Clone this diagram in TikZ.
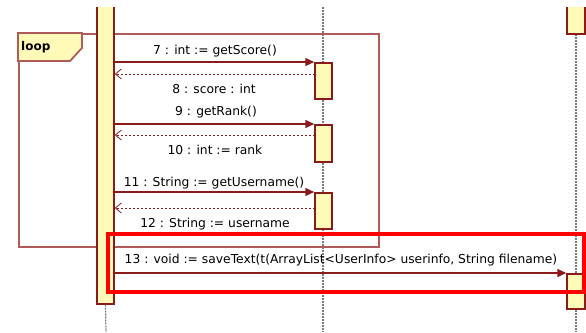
\documentclass[tikz,border=0pt]{standalone}
\usepackage{fontspec}
\setmainfont{DejaVu Sans}
\usetikzlibrary{arrows.meta}

\definecolor{umlred}{HTML}{8B1A1A}
\definecolor{framered}{HTML}{B25A5A}
\definecolor{actfill}{HTML}{FFFAB8}
\definecolor{lifegray}{HTML}{7A7A7A}

\begin{document}
\begin{tikzpicture}[
  x=1pt, y=-1pt,
  bar/.style={draw=umlred, fill=actfill, line width=1.5pt, minimum width=17pt,
    inner sep=0pt, anchor=north},
  lifeline/.style={draw=lifegray, line width=1.2pt, dash pattern=on 2pt off 1pt},
  call/.style={-{Triangle[length=9pt, width=8pt]}, umlred, line width=1.5pt},
  ret/.style={-{Straight Barb[length=6pt, width=10pt]}, umlred, line width=0.8pt,
    dash pattern=on 2.5pt off 1.5pt},
  msg/.style={font=\fontsize{12.3}{14}\selectfont, inner sep=0pt},
  frame/.style={draw=framered, line width=1.8pt, inner sep=0pt, anchor=north west},
  hilite/.style={draw=red, line width=4pt},
]
\useasboundingbox (0,0) rectangle (586,332);
\clip (0,7) rectangle (586,332);

% --- lifelines ---
\coordinate (mtop) at (323,7);
\coordinate (mend) at (323,332);
\coordinate (rtop) at (576,7);
\coordinate (rend) at (576,332);
\coordinate (lend) at (106,332);
\draw[lifeline] (mtop) -- (mend);
\draw[lifeline] (rtop) -- (rend);

% --- loop fragment ---
\node[frame, minimum width=360pt, minimum height=213pt] (loopfr) at (18,33) {};
\draw[framered, line width=1.8pt, fill=actfill]
  (loopfr.north west) -- ++(64,0) -- ++(0,15) -- ++(-12,13) -- ++(-52,0) -- cycle;
\node[font=\fontsize{12}{14}\selectfont\bfseries, anchor=west, inner sep=0pt]
  (looptag) at (21,47) {loop};

% --- activation bars ---
\node[bar, minimum height=310pt] (lbar) at (105.5,-7) {};
\draw[lifeline] (lbar.south) -- (lend);
\node[bar, minimum height=36pt] (act1) at (323.5,62) {};
\node[bar, minimum height=37pt] (act2) at (323.5,124) {};
\node[bar, minimum height=36pt] (act3) at (323.5,192) {};
\node[bar, minimum width=18pt, minimum height=40pt] (rtopbar) at (576,-7) {};
\node[bar, minimum width=18pt, minimum height=35pt] (act4) at (576,273) {};

% --- messages ---
\node[msg] (m7) at (215,51) {7 : int := getScore()};
\draw[call] (lbar.east |- act1.north) -- (act1.north west);
\coordinate (r8) at (315,74);
\draw[ret] (r8) -- (lbar.east |- r8);
\node[msg] (m8) at (214,89) {8 : score : int};

\node[msg] (m9) at (216,112) {9 : getRank()};
\draw[call] (lbar.east |- act2.north) -- (act2.north west);
\coordinate (r10) at (315,135);
\draw[ret] (r10) -- (lbar.east |- r10);
\node[msg] (m10) at (215,150) {10 : int := rank};

\node[msg] (m11) at (214,183) {11 : String := getUsername()};
\draw[call] (lbar.east |- act3.north) -- (act3.north west);
\coordinate (r12) at (315,208);
\draw[ret] (r12) -- (lbar.east |- r12);
\node[msg] (m12) at (215,224) {12 : String := username};

\node[msg] (m13) at (341,260)
  {13 : void := saveText(t(ArrayList<UserInfo> userinfo, String filename)};
\draw[call] (lbar.east |- act4.north) -- (act4.north west);

% --- highlight ---
\draw[hilite] (107.5,233.5) rectangle (583.5,291.5);

\end{tikzpicture}
\end{document}
